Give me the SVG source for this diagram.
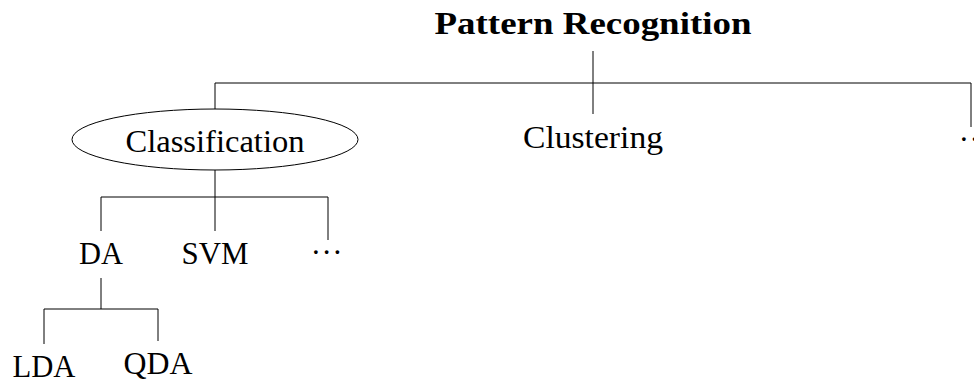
<svg xmlns="http://www.w3.org/2000/svg" width="974" height="379" viewBox="0 0 974 379">
<style>
text{font-family:"Liberation Serif","DejaVu Serif",serif;font-size:31px;fill:#000;text-anchor:middle}
.b{font-weight:bold}
.c line{stroke:#000;stroke-width:1}
.e{fill:none;stroke:#000;stroke-width:1}
</style>
<rect width="974" height="379" fill="#fff"/>
<g class="c" id="connectors">
<line x1="593" y1="51" x2="593" y2="83"/>
<line x1="215" y1="83" x2="971" y2="83"/>
<line x1="215" y1="83" x2="215" y2="109"/>
<line x1="593" y1="83" x2="593" y2="114"/>
<line x1="971" y1="83" x2="971" y2="127"/>
<line x1="215" y1="170" x2="215" y2="197"/>
<line x1="101" y1="197" x2="328" y2="197"/>
<line x1="101" y1="197" x2="101" y2="231"/>
<line x1="215" y1="197" x2="215" y2="231"/>
<line x1="328" y1="197" x2="328" y2="240"/>
<line x1="101" y1="278" x2="101" y2="309"/>
<line x1="44" y1="309" x2="158" y2="309"/>
<line x1="44" y1="309" x2="44" y2="344"/>
<line x1="158" y1="309" x2="158" y2="341"/>
</g>
<g id="root"><text class="b" x="593" y="34" textLength="317" lengthAdjust="spacingAndGlyphs">Pattern Recognition</text></g>
<g id="classification"><ellipse class="e" cx="215" cy="139.5" rx="143" ry="30.5"/><text x="215" y="152" textLength="179" lengthAdjust="spacingAndGlyphs">Classification</text></g>
<g id="clustering"><text x="593" y="148" textLength="140" lengthAdjust="spacingAndGlyphs">Clustering</text></g>
<g id="more1"><text x="971" y="141" text-anchor="start" style="text-anchor:start" dx="-11" letter-spacing="3">...</text></g>
<g id="da"><text x="101" y="264" textLength="44" lengthAdjust="spacingAndGlyphs">DA</text></g>
<g id="svm"><text x="215" y="264" textLength="67" lengthAdjust="spacingAndGlyphs">SVM</text></g>
<g id="more2"><text x="328" y="254" letter-spacing="3">...</text></g>
<g id="lda"><text x="44" y="377" textLength="63" lengthAdjust="spacingAndGlyphs">LDA</text></g>
<g id="qda"><text x="158" y="374" textLength="69" lengthAdjust="spacingAndGlyphs">QDA</text></g>
</svg>
